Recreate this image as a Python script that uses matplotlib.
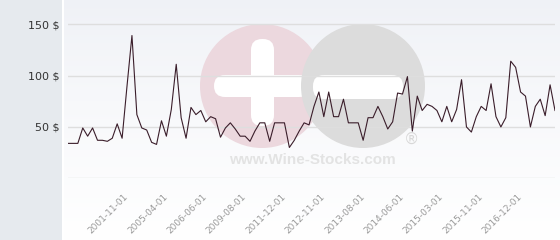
import numpy as np
import matplotlib
matplotlib.use('Agg')
import matplotlib.pyplot as plt
from matplotlib.patches import Circle, FancyBboxPatch, Rectangle

# price history, one value per sale
prices = [34, 34, 34, 49, 41, 49, 37, 37, 36, 39,
          53, 39, 90, 139, 62, 49, 47, 35, 33, 56,
          41, 67, 111, 59, 39, 69, 62, 66, 55, 60,
          58, 40, 49, 54, 48, 41, 41, 36, 46, 54,
          54, 36, 54, 54, 54, 30, 37, 46, 54, 52,
          70, 84, 60, 84, 60, 60, 77, 54, 54, 54,
          37, 59, 59, 70, 60, 48, 55, 83, 82, 99,
          46, 80, 66, 72, 70, 66, 55, 70, 55, 67,
          96, 50, 45, 60, 70, 66, 92, 60, 50, 59,
          114, 108, 84, 80, 50, 70, 77, 61, 91, 66]

tick_labels = ['2001-11-01', '2005-04-01', '2006-06-01', '2009-08-01',
               '2011-12-01', '2012-11-01', '2013-08-01', '2014-06-01',
               '2015-03-01', '2015-11-01', '2016-12-01']
tick_index = [12, 20, 28, 36, 44, 52, 60, 68, 76, 84, 92]

y_ticks = [0, 50, 100, 150]
y_labels = ['', '50 $', '100 $', '150 $']

W, H = 560, 240
fig = plt.figure(figsize=(W / 100, H / 100), dpi=100)
fig.patch.set_facecolor('white')

# left grey panel
fig.patches.append(Rectangle((0, 0), 62 / W, 1, transform=fig.transFigure,
                             facecolor='#e6eaee', edgecolor='none', zorder=0))

# gradient background of the plot area
bg = fig.add_axes([64 / W, 0, (W - 64) / W, 1], zorder=0)
grad = np.linspace(0, 1, 256).reshape(-1, 1)
top = np.array([239, 241, 246]) / 255.0
bot = np.array([255, 255, 255]) / 255.0
img = top + (bot - top) * grad[:, :, None] ** 0.8
bg.imshow(img, aspect='auto', extent=[0, 1, 0, 1], origin='upper')
bg.set_axis_off()

# watermark, drawn in pixel space
wm = fig.add_axes([0, 0, 1, 1], zorder=1)
wm.set_xlim(0, W)
wm.set_ylim(H, 0)
wm.set_axis_off()
wm.patch.set_alpha(0)
wm.add_patch(Circle((262, 86), 62, facecolor='#ecd8de', edgecolor='none'))
wm.add_patch(FancyBboxPatch((251, 39), 23, 87, boxstyle='round,pad=0,rounding_size=11',
                            facecolor='white', edgecolor='none'))
wm.add_patch(FancyBboxPatch((214, 75), 96, 22, boxstyle='round,pad=0,rounding_size=11',
                            facecolor='white', edgecolor='none'))
wm.add_patch(Circle((363, 86), 62, facecolor='#dcdcdc', edgecolor='none'))
wm.add_patch(FancyBboxPatch((313, 75), 90, 24, boxstyle='round,pad=0,rounding_size=11',
                            facecolor='white', edgecolor='none'))
wm.text(312, 160, 'www.Wine-Stocks.com', fontsize=11, fontweight='bold',
        family='Liberation Sans', color='#e3e3e3', ha='center', va='center')
wm.text(411, 139, '®', fontsize=11, color='#d8d8d8', ha='center', va='center')

# main chart
ax = fig.add_axes([68 / W, (H - 178.3) / H, 487 / W, 169.5 / H], zorder=2)
ax.patch.set_alpha(0)
x = np.arange(len(prices))
ax.plot(x, prices, color='#3a1d2a', lw=0.8, zorder=3)
ax.set_xlim(0, len(prices) - 1)
ax.set_ylim(0, 165)
ax.set_yticks(y_ticks)
ax.set_yticklabels(y_labels, fontsize=8, color='#333333')
ax.set_xticks(tick_index)
ax.set_xticklabels(tick_labels, rotation=45, ha='right', va='center',
                   rotation_mode='anchor', fontsize=6.5, color='#9a9a9a')
ax.tick_params(axis='y', length=0, pad=6)
ax.tick_params(axis='x', length=0, pad=12)
ax.grid(axis='y', color='#dedede', lw=1)
ax.set_axisbelow(True)
for s in ax.spines.values():
    s.set_visible(False)

fig.savefig('out.png', dpi=100)
